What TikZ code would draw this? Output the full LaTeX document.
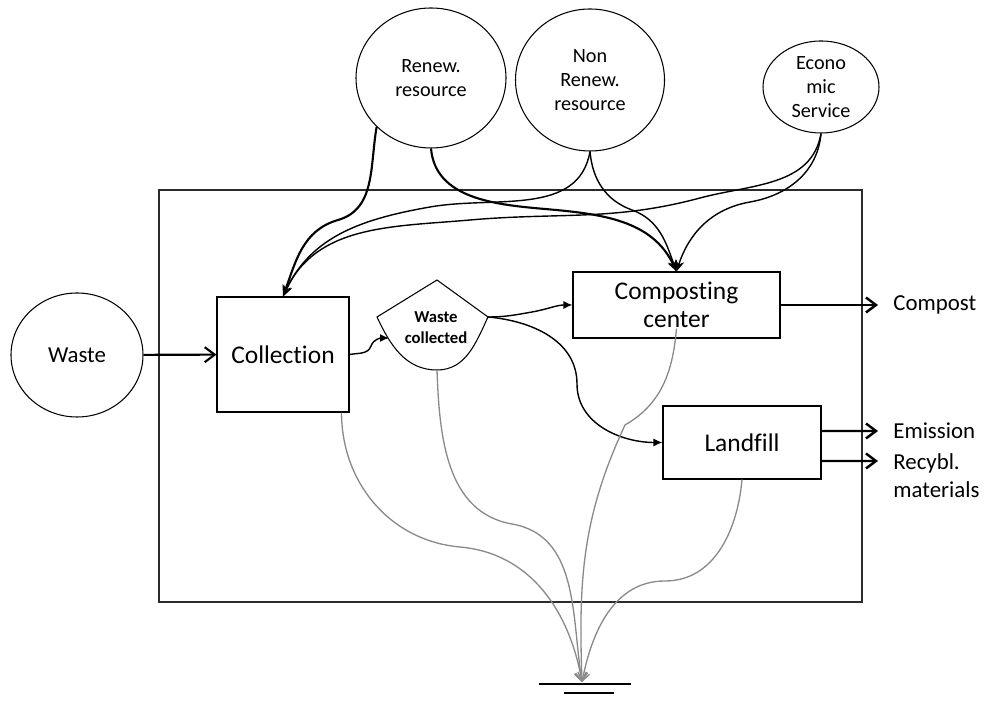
\documentclass[tikz,border=0pt]{standalone}
\usepackage{fontspec}
\setmainfont{Carlito}[Ligatures={NoCommon,NoContextual}]
\usetikzlibrary{arrows.meta,positioning,calc,shapes.geometric}
\definecolor{drainGray}{HTML}{8A8A8A}
\definecolor{frameInk}{HTML}{2B2B2B}

\begin{document}
\begin{tikzpicture}[
  x=0.2mm,y=0.2mm,
  source/.style={ellipse,draw,line width=0.6pt,inner sep=-2mm,align=center,font=\fontsize{11.5}{13.8}\selectfont},
  unit/.style={rectangle,draw,line width=0.6pt,inner sep=0pt,align=center,font=\fontsize{14.5}{16}\selectfont},
  outlbl/.style={anchor=west,inner xsep=3mm,inner ysep=0pt,align=left,font=\fontsize{13}{16}\selectfont},
  feed/.style={-{Stealth[length=2.2mm,width=1.8mm]},line width=0.8pt},
  flow/.style={-{Latex[length=1.8mm,width=1.6mm]},line width=0.8pt},
  push/.style={-{Straight Barb[length=2mm,width=3mm]},line width=1.2pt},
  drain/.style={-{Straight Barb[length=1.6mm,width=2.4mm]},line width=0.75pt,draw=drainGray}
]
\useasboundingbox (0,0) rectangle (990,704);

% system boundary
\node[draw=frameInk,line width=1.2pt,minimum width=140.6mm,minimum height=82.4mm] (plant) at (510.5,308) {};

% inputs
\node[source,font=\fontsize{13}{15}\selectfont,minimum width=26.4mm,minimum height=24.8mm] (waste) at (77,349) {Waste};
\node[source,minimum width=30mm,minimum height=28mm] (ren) at (431,626) {Renew.\\resource};
\node[source,minimum width=29.8mm,minimum height=28.4mm] (nren) at (590,624) {Non\\Renew.\\resource};
\node[source,minimum width=23.2mm,minimum height=18.4mm] (econ) at (821,617) {Econo\\mic\\Service};

% processes
\node[unit,minimum width=26.4mm,minimum height=23mm] (coll) at (283,349.5) {Collection};
\node[unit,minimum width=41.4mm,minimum height=13.2mm] (comp) at (676.5,399) {Composting\\center};
\node[unit,minimum width=31.6mm,minimum height=14.6mm] (land) at (742,261.5) {Landfill};

% storage: waste collected
\coordinate (wcT) at (437,424);
\coordinate (wcL) at (377,387);
\coordinate (wcR) at (488,387);
\coordinate (wcB) at (437,334);
\coordinate (wcin) at (389,366);
\draw[line width=0.6pt] (wcL) -- (wcT) -- (wcR) to[out=-115,in=0] (wcB) to[out=180,in=-65] (wcL) -- cycle;
\node[font=\bfseries\fontsize{9.5}{12}\selectfont,align=center] (wc) at (436,376) {Waste\\collected};

% outputs
\node[outlbl] (compost) at (878,399) {Compost};
\node[outlbl] (emis) at (878,273) {Emission};
\node[outlbl] (recyc) at (878,228) {Recybl.\\materials};
\coordinate (rcyin) at (878,243);
\coordinate (gnd) at (582,22);

\draw[push] (waste) -- (coll);

\draw[feed,line width=1.2pt] (ren.222) to[out=-100,in=16] (338,484) to[out=196,in=70] (coll.north);
\draw[feed,line width=1.2pt] (ren.south) to[out=-85,in=175] (545,495) to[out=-5,in=115] (comp.north);
\draw[feed] (nren.south) to[out=-100,in=10] (430,497) to[out=190,in=65] (coll.north);
\draw[feed] (nren.south) to[out=-85,in=160] (632,494) to[out=-20,in=110] (comp.north);
\draw[feed] (econ.south) to[out=-100,in=15] (700,506) to[out=195,in=5] (470,484) to[out=185,in=65] (coll.north);
\draw[feed] (econ.south) to[out=-95,in=10] (750,502) to[out=190,in=72] (comp.north);

\draw[flow] (coll.east) to[out=10,in=250] (371,358) to[out=70,in=180] (wcin);
\draw[flow] (wcR) to[out=0,in=190] (532,392) to[out=10,in=180] (comp.west);
\draw[flow] (wcR) to[out=-5,in=90] (577,320) to[out=-90,in=180] (land.west);

\draw[push,line width=1.4pt] (comp.east) -- (compost.west);
\draw[push,line width=1.4pt] ([yshift=2.3mm]land.east) -- (emis.west);
\draw[push,line width=1.4pt] ([yshift=-3.7mm]land.east) -- (rcyin);

% heat sink
\draw[drain] ([xshift=-1.6mm]coll.south east) to[out=-90,in=175] (460,157) to[out=-5,in=100] (gnd);
\draw[drain] (wcB) to[out=-88,in=170] (512,180) to[out=-10,in=99] (gnd);
\draw[drain] ([yshift=2mm]comp.south) to[out=-95,in=30] (625,279) to[out=245,in=92] (gnd);
\draw[drain] (land.south) to[out=-95,in=0] (665,123) to[out=180,in=79] (gnd);
\draw[line width=1pt] ($(gnd)+(-43,-2)$) -- ($(gnd)+(49,-2)$);
\draw[line width=1pt] ($(gnd)+(-18,-11)$) -- ($(gnd)+(32,-11)$);
\end{tikzpicture}
\end{document}
